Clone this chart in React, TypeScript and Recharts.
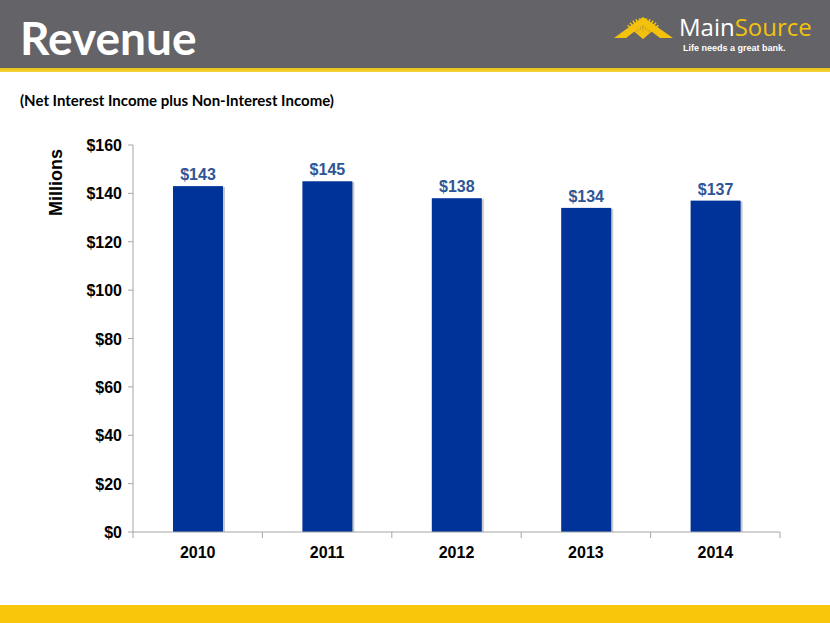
import React from 'react';
import { BarChart, Bar, XAxis, YAxis, LabelList } from 'recharts';

const years = ['2010', '2011', '2012', '2013', '2014'];
const revenue = [143, 145, 138, 134, 137];
const yTicks = [0, 20, 40, 60, 80, 100, 120, 140, 160];

const data = years.map((y, i) => ({ year: y, value: revenue[i] }));

const BarShape = (props: any) => {
  const { x, y, width, height } = props;
  return (
    <g>
      <rect x={x + 2} y={y + 1} width={width} height={height - 1} fill="#C9C9C9" />
      <rect x={x} y={y} width={width} height={height} fill="#003399" />
    </g>
  );
};

const XTick = (props: any) => {
  const { x, y, payload, index } = props;
  const half = payload && payload.offset ? payload.offset : 64.7;
  return (
    <g>
      <line x1={x - half} y1={y - 8} x2={x - half} y2={y - 2} stroke="#A6A6A6" />
      {index === years.length - 1 && (
        <line x1={x + half} y1={y - 8} x2={x + half} y2={y - 2} stroke="#A6A6A6" />
      )}
      <text x={x} y={y + 18} textAnchor="middle" fontFamily="Liberation Sans, Arial" fontWeight="bold" fontSize={16} fill="#000">
        {payload.value}
      </text>
    </g>
  );
};

const YTick = (props: any) => {
  const { x, y, payload } = props;
  return (
    <text x={x - 4} y={y + 6} textAnchor="end" fontFamily="Liberation Sans, Arial" fontWeight="bold" fontSize={16} fill="#000">
      {`$${payload.value}`}
    </text>
  );
};

const Sunburst = () => {
  const rays = [] as React.ReactNode[];
  const cx = 643, cy = 38;
  for (let i = 0; i < 11; i++) {
    const a = Math.PI * (0.22 + (0.56 * i) / 10);
    const x2 = cx + Math.cos(a) * 20;
    const y2 = cy - Math.sin(a) * 20;
    rays.push(<line key={i} x1={cx} y1={cy} x2={x2} y2={y2} stroke="#F4C20D" strokeWidth={1.6} />);
  }
  return (
    <svg width={830} height={70} style={{ position: 'absolute', left: 0, top: 0 }}>
      <polygon points="614,38 643,17 673,38 660,38 643,25 626,38" fill="#F4C20D" />
      {rays}
      <text x={679} y={36} fontFamily="Open Sans" fontSize={24} fill="#FFFFFF">
        Main<tspan fill="#F4C20D">Source</tspan>
      </text>
      <text x={683} y={51} fontFamily="Liberation Sans Narrow, Liberation Sans" fontWeight="bold" fontSize={9} fill="#FFFFFF">
        Life needs a great bank.
      </text>
    </svg>
  );
};

export default function App() {
  return (
    <div style={{ position: 'absolute', left: 0, top: 0, width: 830, height: 623, background: '#fff', overflow: 'hidden' }}>
      <div style={{ position: 'absolute', left: 0, top: 0, width: 830, height: 68, background: '#636368' }} />
      <div style={{ position: 'absolute', left: 0, top: 68, width: 830, height: 4, background: 'linear-gradient(#E8C21A, #F8D33A)' }} />
      <div style={{ position: 'absolute', left: 20, top: 10, color: '#fff', fontFamily: 'Lato', fontWeight: 'bold', fontSize: 46, lineHeight: '56px' }}>
        Revenue
      </div>
      <Sunburst />
      <div style={{ position: 'absolute', left: 20, top: 91, color: '#000', fontFamily: 'Lato', fontWeight: 'bold', fontSize: 15 }}>
        (Net Interest Income plus Non-Interest Income)
      </div>
      <div style={{ position: 'absolute', left: 0, top: 605, width: 830, height: 18, background: '#F8C70B' }} />
      <div style={{ position: 'absolute', left: 0, top: 0 }}>
        <BarChart width={830} height={623} data={data} margin={{ top: 145, right: 50, bottom: 61, left: 50 }}>
          <YAxis
            domain={[0, 160]}
            ticks={yTicks}
            width={83}
            axisLine={{ stroke: '#A6A6A6' }}
            tickLine={{ stroke: '#A6A6A6' }}
            tickSize={5}
            tick={<YTick />}
            label={{ value: 'Millions', angle: -90, position: 'insideLeft', offset: 0, dx: 6, dy: -156, style: { fontFamily: 'Liberation Sans, Arial', fontWeight: 'bold', fontSize: 18, fill: '#000', textAnchor: 'middle' } }}
          />
          <XAxis
            dataKey="year"
            height={30}
            axisLine={{ stroke: '#A6A6A6' }}
            tickLine={false}
            tick={<XTick />}
            interval={0}
          />
          <Bar dataKey="value" barSize={50} shape={<BarShape />} isAnimationActive={false}>
            <LabelList
              dataKey="value"
              position="top"
              offset={6}
              formatter={(v: number) => `$${v}`}
              style={{ fontFamily: 'Liberation Sans, Arial', fontWeight: 'bold', fontSize: 16, fill: '#2E5596' }}
            />
          </Bar>
        </BarChart>
      </div>
    </div>
  );
}
